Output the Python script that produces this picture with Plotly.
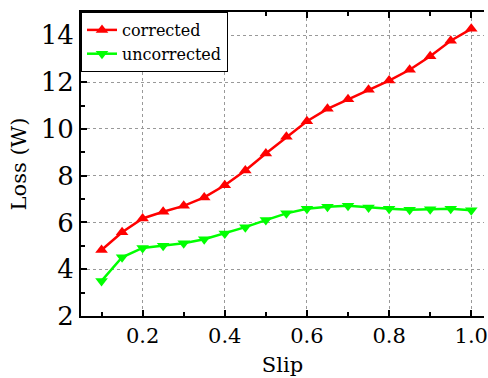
import plotly.graph_objects as go

slip = [0.1, 0.15, 0.2, 0.25, 0.3, 0.35, 0.4, 0.45, 0.5, 0.55, 0.6, 0.65, 0.7, 0.75, 0.8, 0.85, 0.9, 0.95, 1.0]
corrected = [4.82, 5.58, 6.17, 6.46, 6.71, 7.07, 7.59, 8.22, 8.95, 9.66, 10.33, 10.86, 11.27, 11.67, 12.07, 12.53, 13.11, 13.77, 14.28]
uncorrected = [3.50, 4.51, 4.91, 5.00, 5.11, 5.28, 5.53, 5.80, 6.10, 6.39, 6.59, 6.67, 6.71, 6.64, 6.59, 6.54, 6.56, 6.59, 6.52]

FONT = "DejaVu Serif"

fig = go.Figure()
fig.add_trace(go.Scatter(x=slip, y=corrected, mode="lines+markers", name="corrected",
                         line=dict(color="#FF0000", width=2.5),
                         marker=dict(symbol="triangle-up", size=11, color="#FF0000")))
fig.add_trace(go.Scatter(x=slip, y=uncorrected, mode="lines+markers", name="uncorrected",
                         line=dict(color="#00FF00", width=2.5),
                         marker=dict(symbol="triangle-down", size=11, color="#00FF00")))

fig.update_layout(
    width=488, height=378,
    margin=dict(l=81, r=0, t=12, b=62),
    paper_bgcolor="white", plot_bgcolor="white",
    font=dict(family=FONT, color="black"),
    legend=dict(x=0, y=1, xanchor="left", yanchor="top",
                bgcolor="white", bordercolor="black", borderwidth=1,
                font=dict(family=FONT, size=16), tracegroupgap=0),
)
fig.update_xaxes(
    range=[0.05, 1.031], tickvals=[0.2, 0.4, 0.6, 0.8, 1.0], ticktext=["0.2", "0.4", "0.6", "0.8", "1.0"],
    ticklabeloverflow="allow",
    ticks="inside", ticklen=6, tickwidth=1.5, tickcolor="black",
    minor=dict(tickvals=[0.1, 0.3, 0.5, 0.7, 0.9], ticks="inside", ticklen=4, tickcolor="black", showgrid=False),
    showline=True, linecolor="black", linewidth=2, mirror="allticks",
    showgrid=True, gridcolor="#999999", griddash="dot", gridwidth=1,
    zeroline=False, tickfont=dict(family=FONT, size=21),
    title=dict(text="Slip", font=dict(family=FONT, size=21), standoff=10),
)
fig.update_yaxes(
    range=[2, 15], tickvals=[2, 4, 6, 8, 10, 12, 14],
    ticks="inside", ticklen=6, tickwidth=1.5, tickcolor="black",
    minor=dict(tickvals=[3, 5, 7, 9, 11, 13], ticks="inside", ticklen=4, tickcolor="black", showgrid=False),
    showline=True, linecolor="black", linewidth=2,
    showgrid=True, gridcolor="#999999", griddash="dot", gridwidth=1,
    zeroline=False, tickfont=dict(family=FONT, size=26),
    title=dict(text="Loss (W)", font=dict(family=FONT, size=21), standoff=8),
)
fig.write_html("out.html")
